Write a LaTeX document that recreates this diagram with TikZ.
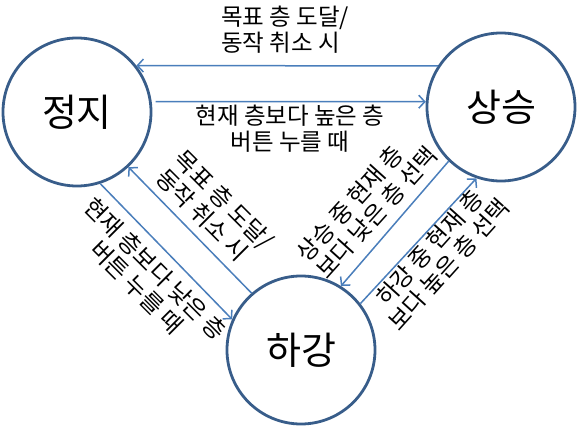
\documentclass[tikz,border=0pt]{standalone}
\usepackage{fontspec}
\setmainfont{Noto Sans CJK KR}
\usetikzlibrary{arrows.meta}

\definecolor{ringblue}{HTML}{385D8A}
\definecolor{lineblue}{HTML}{4A7EBB}

\tikzset{
  state/.style={circle, draw=ringblue, line width=2.8pt, minimum size=148pt,
    font=\fontsize{38}{40}\selectfont},
  flow/.style={draw=lineblue, line width=1.5pt,
    -{Straight Barb[length=6pt,width=13pt]}},
  lbl/.style={font=\fontsize{23.5}{26}\selectfont, inner sep=0pt}
}

\begin{document}
\begin{tikzpicture}[x=1pt,y=-1pt]
  \useasboundingbox (0,0) rectangle (579,427);

  % States
  \node[state] (stop) at (77,112) {정지};
  \node[state] (up) at (501,107) {상승};
  \node[state] (down) at (301,350) {하강};

  % Transitions
  \draw[flow] (up.147) -- (stop.38);
  \draw[flow] ([xshift=4pt]stop.8) -- (up.176);
  \draw[flow] (stop.-72) -- (down.156);
  \draw[flow] (down.131) -- (stop.-47);
  \draw[flow] (up.226) -- (down.58);
  \draw[flow] (down.38) -- (up.251);

  % Transition labels
  \node[lbl, align=left] (toplbl) at (285,30) {목표 층 도달/\\동작 취소 시};
  \node[lbl, align=center] (midlbl) at (290,129) {현재 층보다 높은 층\\버튼 누를 때};
  \node[lbl, align=center, rotate=-45] (golbl) at (146,278) {현재 층보다 낮은 층\\버튼 누를 때};
  \node[lbl, align=left, rotate=-45] (backlbl) at (215,209) {목표 층 도달/\\동작 취소 시};
  \node[lbl, align=left, rotate=48] (uplbl) at (367,204) {상승 중 현재 층\\보다 낮은 층 선택};
  \node[lbl, align=center, rotate=48] (downlbl) at (439,256) {하강 중 현재 층\\보다 높은 층 선택};
\end{tikzpicture}
\end{document}
